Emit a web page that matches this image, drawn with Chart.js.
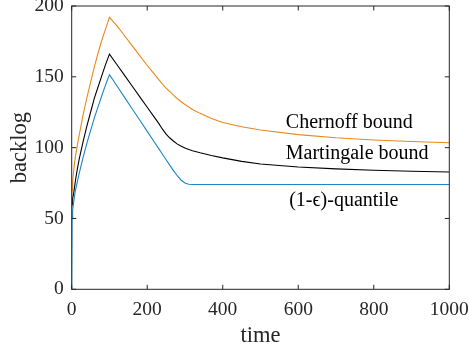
<!DOCTYPE html>
<html><head><meta charset="utf-8">
<script src="https://cdn.jsdelivr.net/npm/chart.js@4/dist/chart.umd.min.js"></script>
<style>html,body{margin:0;padding:0;background:#fff}#wrap{width:469px;height:353px}</style>
</head><body><div id="wrap"><canvas id="c" width="469" height="353"></canvas></div>
<script>
// ---- data ----
const times = [0,1,2,3,5,7,10,15,20,30,40,50,60,70,80,90,100,120,140,160,180,200,220,230,240,250,260,270,280,290,300,310,320,340,370,400,450,500,600,700,800,900,1000];
const quantile = [0,50,53,56,61,65,70,76,82,93,103,112,121,129,137,144.5,151.5,143.5,135.5,127.5,119.5,111.5,103.5,99.5,95.5,91.5,87.5,83.6,80,77,75,74.2,74,74,74,74,74,74,74,74,74,74,74];
const martingale = [58,60,62,64,67.5,71,77,85,92,104,115,125,135,143,151,159,166,158.5,151,143.5,136,128.5,121,117.3,113.2,109.6,106.8,104.5,102.5,101,99.7,98.7,97.8,96.4,94.5,92.8,90.3,88.5,86.3,85,84,83.3,82.8];
const chernoff = [64,70,74,77,83,88,94,102,109,123,135,146,157,167,176,184,192,186,179,172,165,158,151.5,148.2,145,142,139.5,136.9,134.5,132.4,130.5,128.7,127,124.2,120.5,117.8,114.7,112.5,109.2,107,105.4,104.3,103.5];
const seriesNames = ['(1-ϵ)-quantile','Martingale bound','Chernoff bound'];
const xTicks = [0,200,400,600,800,1000];
const yTicks = [0,50,100,150,200];
// in-plot text labels (data coordinates of left end / baseline)
const labelTexts = ['Chernoff bound','Martingale bound','(1-ϵ)-quantile'];
const labelX = [567,567,576];
const labelY = [114,91.8,58.8];

const toPts = arr => times.map((t,i)=>({x:t,y:arr[i]}));
const AX = '#262626';
const FONT = 'Liberation Serif, Times New Roman, serif';

const framePlugin = {
  id:'frame',
  afterDatasetsDraw(chart){
    const {ctx, chartArea:a, scales:{x,y}} = chart;
    ctx.save();
    ctx.strokeStyle = AX; ctx.lineWidth = 1;
    ctx.strokeRect(a.left, a.top, a.right-a.left, a.bottom-a.top);
    const L = 4.5;
    ctx.beginPath();
    xTicks.forEach(v=>{const px=x.getPixelForValue(v);
      ctx.moveTo(px,a.bottom); ctx.lineTo(px,a.bottom-L);
      ctx.moveTo(px,a.top); ctx.lineTo(px,a.top+L);});
    yTicks.forEach(v=>{const py=y.getPixelForValue(v);
      ctx.moveTo(a.left,py); ctx.lineTo(a.left+L,py);
      ctx.moveTo(a.right,py); ctx.lineTo(a.right-L,py);});
    ctx.stroke();
    ctx.fillStyle = '#000';
    ctx.font = '20px ' + FONT;
    ctx.textAlign='left'; ctx.textBaseline='alphabetic';
    labelTexts.forEach((t,i)=>{
      ctx.fillText(t, x.getPixelForValue(labelX[i]), y.getPixelForValue(labelY[i]));
    });
    ctx.restore();
  }
};

new Chart(document.getElementById('c'), {
  type:'line',
  data:{datasets:[
    {label:seriesNames[0], data:toPts(quantile), borderColor:'#1a86c8', borderWidth:1.1},
    {label:seriesNames[1], data:toPts(martingale), borderColor:'#000000', borderWidth:1.1},
    {label:seriesNames[2], data:toPts(chernoff), borderColor:'#e8891c', borderWidth:1.1}
  ]},
  options:{
    responsive:false, animation:false, devicePixelRatio:1,
    layout:{padding:{left:0,top:6,right:19.7,bottom:0}},
    elements:{point:{radius:0}, line:{tension:0}},
    plugins:{legend:{display:false}, tooltip:{enabled:false}},
    scales:{
      x:{type:'linear', min:0, max:1000,
        afterBuildTicks(s){s.ticks = xTicks.map(v=>({value:v}));},
        afterFit(s){s.height=63.7; s.paddingLeft=0; s.paddingRight=0;},
        grid:{display:false, drawTicks:false}, border:{display:false},
        ticks:{color:AX, font:{family:FONT,size:19.5}, padding:9, maxRotation:0, callback:v=>String(v)},
        title:{display:true, text:'time', color:AX, font:{family:FONT,size:22.5}, padding:{top:0,bottom:3}}
      },
      y:{type:'linear', min:0, max:200,
        afterBuildTicks(s){s.ticks = yTicks.map(v=>({value:v}));},
        afterFit(s){s.width=71.7; s.paddingTop=0; s.paddingBottom=0;},
        grid:{display:false, drawTicks:false}, border:{display:false},
        ticks:{color:AX, font:{family:FONT,size:19.5}, padding:8, callback:v=>String(v)},
        title:{display:true, text:'backlog', color:AX, font:{family:FONT,size:22.5}, padding:{top:7,bottom:0}}
      }
    }
  },
  plugins:[framePlugin]
});
</script></body></html>
